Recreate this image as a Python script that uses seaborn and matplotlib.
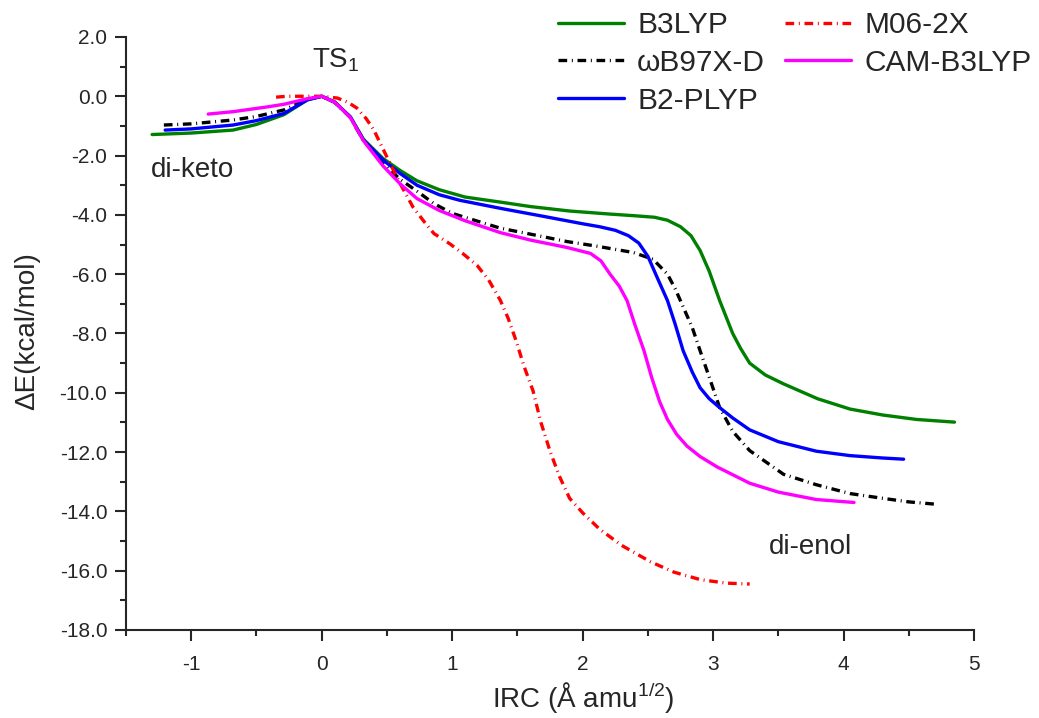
import seaborn as sns
import pandas as pd
import matplotlib.pyplot as plt
from matplotlib.ticker import MultipleLocator, FormatStrFormatter

# IRC profiles (x in A amu^1/2, dE in kcal/mol)
b3lyp_x = [-1.30, -1.0, -0.68, -0.5, -0.29, -0.11, 0, 0.1, 0.22, 0.32, 0.47, 0.6, 0.73, 0.9, 1.1, 1.37, 1.6, 1.9,
           2.2, 2.4, 2.55, 2.65, 2.75, 2.83, 2.90, 2.97, 3.05, 3.15, 3.21, 3.28, 3.4, 3.54, 3.8, 4.05, 4.3, 4.56, 4.85]
b3lyp_y = [-1.29, -1.24, -1.14, -0.95, -0.62, -0.12, 0, -0.2, -0.70, -1.45, -2.10, -2.50, -2.85, -3.15, -3.40, -3.57,
           -3.72, -3.87, -3.97, -4.03, -4.08, -4.18, -4.40, -4.7, -5.2, -5.9, -6.89, -8.0, -8.5, -9.0, -9.4, -9.70,
           -10.2, -10.55, -10.75, -10.9, -10.99]

wb97xd_x = [-1.21, -1.0, -0.68, -0.5, -0.29, -0.11, 0, 0.1, 0.22, 0.32, 0.47, 0.6, 0.73, 0.86, 1.0, 1.37, 1.6, 1.88,
            2.1, 2.39, 2.54, 2.65, 2.71, 2.77, 2.84, 2.90, 2.98, 3.05, 3.15, 3.28, 3.54, 3.79, 4.05, 4.30, 4.5, 4.71]
wb97xd_y = [-0.97, -0.93, -0.80, -0.68, -0.46, -0.1, 0, -0.2, -0.72, -1.5, -2.25, -2.8, -3.2, -3.62, -3.95, -4.45,
            -4.65, -4.9, -5.05, -5.27, -5.5, -6.0, -6.5, -7.1, -7.8, -8.58, -9.6, -10.5, -11.3, -11.95, -12.75, -13.1,
            -13.4, -13.56, -13.68, -13.76]

b2plyp_x = [-1.20, -1.0, -0.68, -0.5, -0.29, -0.11, 0, 0.1, 0.22, 0.32, 0.47, 0.6, 0.73, 0.9, 1.06, 1.37, 1.7, 2.0,
            2.13, 2.25, 2.35, 2.43, 2.50, 2.58, 2.65, 2.71, 2.77, 2.84, 2.90, 2.97, 3.05, 3.15, 3.28, 3.5, 3.79, 4.05,
            4.3, 4.46]
b2plyp_y = [-1.14, -1.10, -0.97, -0.82, -0.58, -0.12, 0, -0.2, -0.70, -1.48, -2.15, -2.6, -3.0, -3.32, -3.51, -3.78,
            -4.05, -4.3, -4.40, -4.52, -4.7, -4.95, -5.4, -6.2, -6.89, -7.7, -8.58, -9.3, -9.83, -10.2, -10.5, -10.85,
            -11.25, -11.65, -11.97, -12.12, -12.2, -12.24]

m062x_x = [-0.35, -0.27, -0.1, 0, 0.12, 0.2, 0.27, 0.34, 0.40, 0.45, 0.50, 0.60, 0.70, 0.78, 0.86, 0.98, 1.08, 1.19,
           1.28, 1.37, 1.43, 1.49, 1.55, 1.62, 1.68, 1.75, 1.82, 1.90, 2.0, 2.13, 2.3, 2.52, 2.7, 2.90, 3.1, 3.28]
m062x_y = [-0.03, 0, 0, 0, -0.06, -0.2, -0.40, -0.75, -1.14, -1.6, -2.05, -2.94, -3.74, -4.2, -4.63, -4.97, -5.3,
           -5.7, -6.2, -6.89, -7.5, -8.25, -9.1, -9.94, -11.0, -11.97, -12.8, -13.56, -14.05, -14.6, -15.15, -15.7,
           -16.05, -16.3, -16.42, -16.45]

cam_x = [-0.87, -0.68, -0.42, -0.29, -0.11, 0, 0.1, 0.22, 0.32, 0.47, 0.6, 0.73, 0.9, 1.1, 1.37, 1.6, 1.88, 2.06,
         2.14, 2.21, 2.28, 2.34, 2.40, 2.47, 2.53, 2.59, 2.65, 2.72, 2.8, 2.9, 3.03, 3.28, 3.5, 3.79, 4.08]
cam_y = [-0.60, -0.52, -0.36, -0.27, -0.08, 0, -0.2, -0.72, -1.5, -2.35, -2.95, -3.45, -3.85, -4.2, -4.6, -4.85,
         -5.1, -5.3, -5.55, -6.0, -6.4, -6.89, -7.7, -8.58, -9.5, -10.3, -10.9, -11.4, -11.8, -12.15, -12.5, -13.05,
         -13.35, -13.6, -13.7]

dash = (0, (2.6, 1.4, 0.3, 1.4))
series = [('B3LYP', b3lyp_x, b3lyp_y, 'green', '-'),
          ('ωB97X-D', wb97xd_x, wb97xd_y, 'black', dash),
          ('B2-PLYP', b2plyp_x, b2plyp_y, 'blue', '-'),
          ('M06-2X', m062x_x, m062x_y, 'red', dash),
          ('CAM-B3LYP', cam_x, cam_y, 'magenta', '-')]

sns.set_style('ticks')
plt.rcParams['font.family'] = ['Liberation Sans', 'DejaVu Sans']
plt.rcParams['mathtext.default'] = 'regular'
plt.rcParams['axes.unicode_minus'] = False

fig = plt.figure(figsize=(10.39, 7.18), dpi=100)
ax = fig.add_axes([0.1213, 0.1226, 0.8162, 0.8259])

for name, xs, ys, col, ls in series:
    df = pd.DataFrame({'x': xs, 'y': ys})
    sns.lineplot(x='x', y='y', data=df, ax=ax, color=col, linestyle=ls, linewidth=2.4,
                 sort=False, label=name)

ax.set_xlim(-1.5, 5.0)
ax.set_ylim(-18, 2)
ax.xaxis.set_major_locator(MultipleLocator(1))
ax.xaxis.set_minor_locator(MultipleLocator(0.5))
ax.yaxis.set_major_locator(MultipleLocator(2))
ax.yaxis.set_minor_locator(MultipleLocator(1))
ax.yaxis.set_major_formatter(FormatStrFormatter('%.1f'))
ax.tick_params(which='major', length=8, width=1.5, labelsize=15, direction='out')
ax.tick_params(which='minor', length=4, width=1.5, direction='out')
ax.tick_params(axis='x', which='major', pad=10)
ax.tick_params(axis='y', which='major', pad=5.5)
for side in ['top', 'right']:
    ax.spines[side].set_visible(False)
for side in ['left', 'bottom']:
    ax.spines[side].set_linewidth(1.5)

ax.set_xlabel('IRC (Å amu$^{1/2}$)', fontsize=20)
ax.set_ylabel('ΔE(kcal/mol)', fontsize=20)
ax.xaxis.set_label_coords(0.539, -0.084)
ax.yaxis.set_label_coords(-0.101, 0.504)

ax.text(0.11, 1.23, 'TS$_1$', fontsize=20, ha='center', va='center')
ax.text(-0.99, -2.5, 'di-keto', fontsize=20, ha='center', va='center')
ax.text(3.75, -15.2, 'di-enol', fontsize=20, ha='center', va='center')

# two legend columns placed separately, as in the original
handles, labels = ax.get_legend_handles_labels()
leg_opts = dict(frameon=False, fontsize=21.5, loc='upper left', bbox_transform=fig.transFigure,
                borderpad=0, borderaxespad=0, handlelength=2.2, handletextpad=0.45, labelspacing=0.33)
leg1 = ax.legend(handles[:3], labels[:3], bbox_to_anchor=(558 / 1039, 1 - 11 / 718), **leg_opts)
ax.add_artist(leg1)
ax.legend(handles[3:], labels[3:], bbox_to_anchor=(785 / 1039, 1 - 11 / 718), **leg_opts)

plt.savefig('out.png', dpi=100)
